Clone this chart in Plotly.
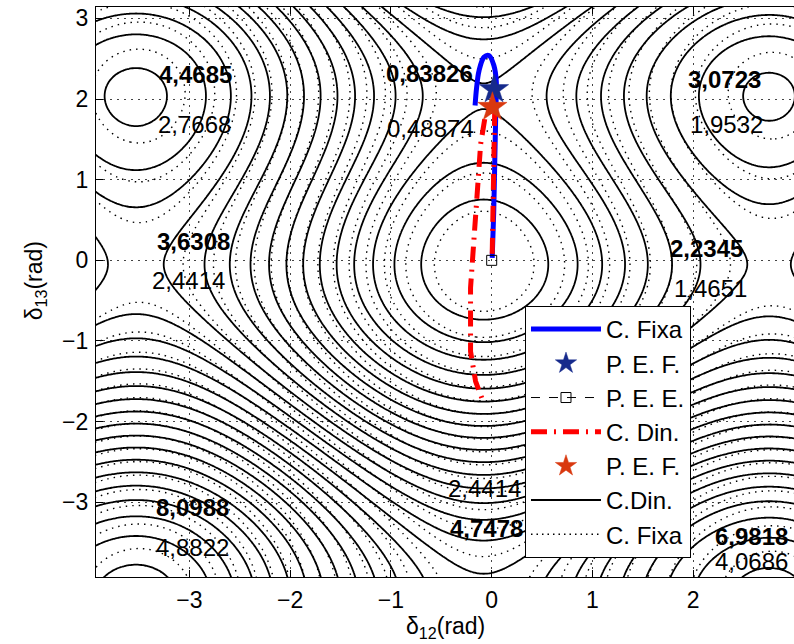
import numpy as np
import plotly.graph_objects as go

# ---------------- energy-function parameters (dynamic / fixed) ----------------
# V(x,y) = p*X - A*cos(X+u) + A*cos(u) + q*Y - B*cos(Y+v) + B*cos(v), X=x-xm, Y=y-ym
x_min, y_min = -0.08, -0.05
din_p, din_A, din_u = -0.2222, 1.4486, 0.154
din_q, din_B, din_v = -0.6222, 1.2365, 0.527
fix_p, fix_A, fix_u = -0.1295, 0.927, 0.1402
fix_q, fix_B, fix_v = -0.3367, 0.689, 0.5105
din_levels = dict(start=0.275, end=9.0, size=0.275)
fix_levels = dict(start=0.11, end=6.0, size=0.16)

# ---------------- trajectories and points ----------------
fixa_x = [0.005, 0.02, 0.03, 0.04, 0.045, 0.045, 0.023, -0.027, -0.076, -0.126, -0.15, -0.165]
fixa_y = [0.03, 0.6, 1.2, 1.8, 2.05, 2.23, 2.41, 2.54, 2.52, 2.35, 2.14, 1.92]
din_x = [0.005, 0.015, 0.025, 0.03, 0.03, -0.06, -0.11, -0.14, -0.19, -0.21, -0.21, -0.16, -0.08]
din_y = [0.08, 0.7, 1.4, 1.75, 1.87, 1.82, 1.44, 0.9, -0.09, -0.34, -1.13, -1.5, -1.77]
pef_fixa = (0.023, 2.12)
pef_din = (0.007, 1.90)
pee = (0.0, 0.0)

# ---------------- value labels ----------------
lab_text = ["4,4685", "2,7668", "0,83826", "0,48874", "3,0723", "1,9532",
            "3,6308", "2,4414", "2,2345", "1,4651", "8,0988", "4,8822",
            "2,4414", "4,7478", "6,9818", "4,0686"]
lab_bold = [1, 0, 1, 0, 1, 0, 1, 0, 1, 0, 1, 0, 0, 1, 1, 0]
lab_x = [-2.94, -2.95, -0.62, -0.61, 2.31, 2.33, -2.96, -3.01, 2.13, 2.17,
         -2.97, -2.97, -0.07, -0.05, 2.58, 2.58]
lab_y = [2.31, 1.68, 2.32, 1.63, 2.24, 1.68, 0.23, -0.245, 0.15, -0.35,
         -3.06, -3.56, -2.83, -3.33, -3.42, -3.74]

x_ticks = [-3, -2, -1, 0, 1, 2, 3]
y_ticks = [-3, -2, -1, 0, 1, 2, 3]
x_range = [-3.927, 3.0]
y_range = [-3.927, 3.1416]

FONT = "Liberation Sans, Arial, sans-serif"

xs = np.linspace(-4.0, 3.3, 420)
ys = np.linspace(-4.0, 3.3, 420)
XX, YY = np.meshgrid(xs - x_min, ys - y_min)


def energy(p, A, u, q, B, v):
    return (p * XX - A * np.cos(XX + u) + A * np.cos(u)
            + q * YY - B * np.cos(YY + v) + B * np.cos(v))


Z_din = energy(din_p, din_A, din_u, din_q, din_B, din_v)
Z_fix = energy(fix_p, fix_A, fix_u, fix_q, fix_B, fix_v)

black = [[0, "black"], [1, "black"]]
fig = go.Figure()
fig.add_trace(go.Contour(x=xs, y=ys, z=Z_fix, contours=dict(coloring="lines", **fix_levels),
                         colorscale=black, showscale=False, hoverinfo="skip",
                         line=dict(width=1.4, dash="1.5px,5px"), showlegend=False))
fig.add_trace(go.Contour(x=xs, y=ys, z=Z_din, contours=dict(coloring="lines", **din_levels),
                         colorscale=black, showscale=False, hoverinfo="skip",
                         line=dict(width=1.8), showlegend=False))

fig.add_trace(go.Scatter(x=fixa_x, y=fixa_y, mode="lines", name="C. Fixa",
                         line=dict(color="#0000ff", width=5, shape="spline"), legendgroup="g1"))
fig.add_trace(go.Scatter(x=[pef_fixa[0]], y=[pef_fixa[1]], mode="markers", name="P. E. F.",
                         marker=dict(symbol="star", size=22, color="#162a8c",
                                     line=dict(color="#162a8c", width=0.5)), legendgroup="g2"))
fig.add_trace(go.Scatter(x=[pee[0]], y=[pee[1]], mode="lines+markers", name="P. E. E.",
                         line=dict(color="black", width=1, dash="dash"),
                         marker=dict(symbol="square-open", size=10, color="black",
                                     line=dict(width=1)), legendgroup="g3"))
fig.add_trace(go.Scatter(x=din_x, y=din_y, mode="lines", name="C. Din.",
                         line=dict(color="#ff0000", width=5, dash="16px,7px,2px,7px"),
                         legendgroup="g4"))
fig.add_trace(go.Scatter(x=[pef_din[0]], y=[pef_din[1]], mode="markers", name="P. E. F.",
                         marker=dict(symbol="star", size=22, color="#d9380f",
                                     line=dict(color="#d9380f", width=0.5)), legendgroup="g5"))
fig.add_trace(go.Scatter(x=[None], y=[None], mode="lines", name="C.Din.",
                         line=dict(color="black", width=2), legendgroup="g6"))
fig.add_trace(go.Scatter(x=[None], y=[None], mode="lines", name="C. Fixa",
                         line=dict(color="black", width=1.4, dash="1.5px,4px"), legendgroup="g7"))

for t, b, lx, ly in zip(lab_text, lab_bold, lab_x, lab_y):
    fig.add_annotation(x=lx, y=ly, xref="x", yref="y", text=f"<b>{t}</b>" if b else t,
                       showarrow=False, font=dict(size=24, color="black", family=FONT))

fig.add_annotation(x=0.5, y=-0.088, xref="paper", yref="paper", yanchor="middle",
                   text="δ<sub>12</sub>(rad)", showarrow=False,
                   font=dict(size=23, color="black", family=FONT))
fig.add_annotation(x=-0.11, y=0.52, xref="paper", yref="paper", textangle=-90,
                   text="δ<sub>13</sub>(rad)", showarrow=False,
                   font=dict(size=23, color="black", family=FONT))

axis_common = dict(showline=True, linecolor="black", linewidth=1.2, ticks="inside",
                   ticklen=7, tickcolor="black", showgrid=True, gridcolor="#444444",
                   griddash="2px,5px", gridwidth=1, zeroline=False)
fig.update_xaxes(range=x_range, tickvals=x_ticks, mirror="ticks", **axis_common,
                 ticklabelstandoff=2, tickfont=dict(size=23, color="black", family=FONT))
fig.update_yaxes(range=y_range, tickvals=y_ticks, mirror=False, **axis_common,
                 ticklabelstandoff=2, tickfont=dict(size=23, color="black", family=FONT))

fig.update_layout(width=794, height=644, margin=dict(l=96, r=0, t=7, b=67),
                  paper_bgcolor="white", plot_bgcolor="white",
                  font=dict(family=FONT, color="black"),
                  legend=dict(x=0.6146, y=0.4754, xanchor="left", yanchor="top",
                              bgcolor="white", bordercolor="black", borderwidth=1,
                              font=dict(size=24, family=FONT, color="black"),
                              traceorder="grouped", tracegroupgap=0, itemwidth=70))

fig.write_html("out.html")
